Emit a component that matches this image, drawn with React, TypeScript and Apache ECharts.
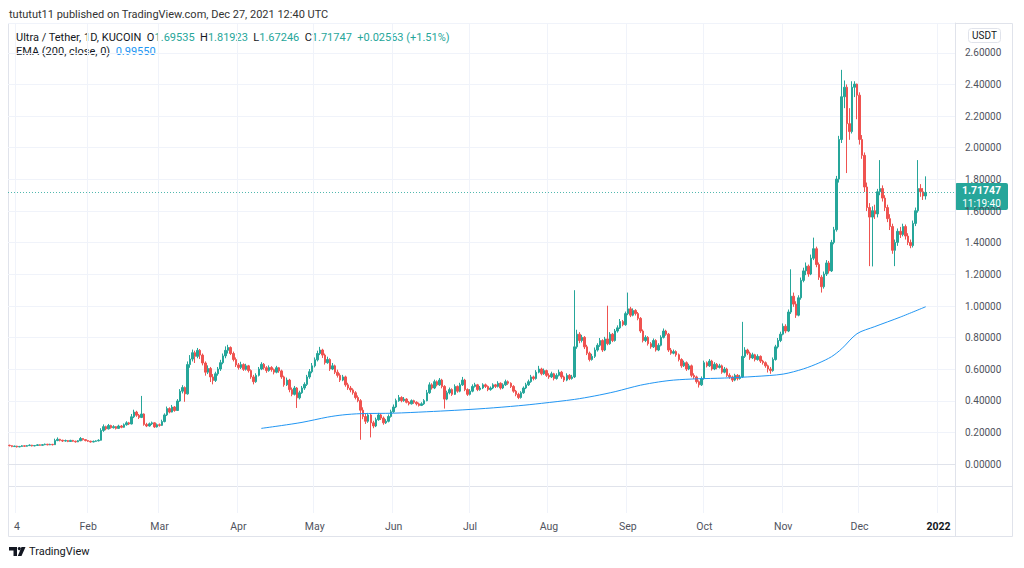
import React, { useEffect, useRef } from "react";
import * as echarts from "echarts";

// Daily candles, each entry [close, high, low]; open = previous close.
const firstOpen = 0.12;
const jan = [
  [0.118, 0.124, 0.113], [0.112, 0.12, 0.108], [0.115, 0.118, 0.11], [0.11, 0.117, 0.106], [0.113, 0.116, 0.108],
  [0.117, 0.121, 0.111], [0.114, 0.119, 0.111], [0.118, 0.122, 0.112], [0.121, 0.126, 0.116], [0.116, 0.123, 0.113],
  [0.119, 0.122, 0.114], [0.123, 0.127, 0.117], [0.12, 0.126, 0.117], [0.124, 0.128, 0.118], [0.127, 0.131, 0.121],
  [0.123, 0.129, 0.12], [0.126, 0.13, 0.121], [0.124, 0.129, 0.119], [0.15, 0.162, 0.122], [0.158, 0.17, 0.146],
  [0.152, 0.161, 0.145], [0.147, 0.155, 0.141], [0.15, 0.156, 0.143], [0.144, 0.153, 0.14], [0.151, 0.155, 0.141],
  [0.146, 0.154, 0.142], [0.142, 0.149, 0.137], [0.149, 0.153, 0.14], [0.163, 0.172, 0.146], [0.156, 0.166, 0.15],
  [0.15, 0.159, 0.145],
];
const feb = [
  [0.146, 0.153, 0.141], [0.141, 0.149, 0.137], [0.145, 0.15, 0.139], [0.148, 0.152, 0.142], [0.152, 0.158, 0.145],
  [0.214, 0.228, 0.15], [0.238, 0.252, 0.205], [0.224, 0.244, 0.215], [0.245, 0.255, 0.22], [0.231, 0.25, 0.225],
  [0.238, 0.247, 0.226], [0.227, 0.242, 0.22], [0.242, 0.25, 0.224], [0.234, 0.248, 0.228], [0.25, 0.258, 0.231],
  [0.262, 0.272, 0.244], [0.255, 0.268, 0.248], [0.3, 0.318, 0.252], [0.33, 0.345, 0.292], [0.31, 0.338, 0.3],
  [0.296, 0.318, 0.286], [0.318, 0.432, 0.292], [0.252, 0.322, 0.244], [0.242, 0.262, 0.235], [0.256, 0.264, 0.238],
  [0.262, 0.27, 0.248], [0.236, 0.265, 0.23], [0.25, 0.258, 0.232],
];
const mar = [
  [0.246, 0.258, 0.238], [0.27, 0.282, 0.242], [0.312, 0.322, 0.265], [0.352, 0.365, 0.305], [0.33, 0.36, 0.322],
  [0.362, 0.375, 0.328], [0.34, 0.368, 0.332], [0.4, 0.412, 0.338], [0.462, 0.475, 0.395], [0.485, 0.5, 0.448],
  [0.445, 0.492, 0.395], [0.63, 0.65, 0.44], [0.665, 0.69, 0.61], [0.705, 0.725, 0.65], [0.682, 0.718, 0.64],
  [0.72, 0.735, 0.67], [0.69, 0.728, 0.665], [0.64, 0.7, 0.625], [0.582, 0.65, 0.56], [0.605, 0.625, 0.57],
  [0.552, 0.615, 0.52], [0.53, 0.57, 0.505], [0.572, 0.585, 0.52], [0.602, 0.615, 0.56], [0.642, 0.66, 0.59],
  [0.685, 0.7, 0.632], [0.72, 0.745, 0.67], [0.738, 0.755, 0.7], [0.7, 0.745, 0.69], [0.662, 0.712, 0.65],
  [0.628, 0.675, 0.615],
];
const apr = [
  [0.612, 0.64, 0.598], [0.63, 0.648, 0.602], [0.6, 0.638, 0.59], [0.622, 0.635, 0.592], [0.592, 0.628, 0.58],
  [0.552, 0.6, 0.54], [0.522, 0.565, 0.505], [0.562, 0.575, 0.515], [0.602, 0.615, 0.555], [0.632, 0.645, 0.595],
  [0.61, 0.64, 0.598], [0.592, 0.62, 0.578], [0.612, 0.625, 0.585], [0.598, 0.62, 0.585], [0.582, 0.605, 0.568],
  [0.61, 0.622, 0.575], [0.59, 0.615, 0.578], [0.552, 0.598, 0.54], [0.502, 0.56, 0.49], [0.532, 0.548, 0.495],
  [0.472, 0.54, 0.455], [0.442, 0.485, 0.43], [0.482, 0.495, 0.435], [0.42, 0.488, 0.356], [0.452, 0.465, 0.41],
  [0.482, 0.495, 0.445], [0.505, 0.518, 0.47], [0.552, 0.565, 0.495], [0.585, 0.602, 0.54], [0.622, 0.64, 0.575],
];
const may = [
  [0.66, 0.675, 0.612], [0.7, 0.718, 0.65], [0.722, 0.742, 0.69], [0.69, 0.73, 0.672], [0.642, 0.7, 0.63],
  [0.662, 0.68, 0.635], [0.602, 0.67, 0.59], [0.622, 0.64, 0.595], [0.582, 0.63, 0.57], [0.562, 0.598, 0.548],
  [0.532, 0.575, 0.52], [0.552, 0.565, 0.525], [0.502, 0.56, 0.49], [0.482, 0.515, 0.47], [0.47, 0.495, 0.455],
  [0.452, 0.48, 0.44], [0.422, 0.462, 0.41], [0.402, 0.435, 0.392], [0.342, 0.412, 0.155], [0.302, 0.36, 0.285],
  [0.272, 0.32, 0.255], [0.312, 0.325, 0.262], [0.262, 0.32, 0.17], [0.242, 0.275, 0.228], [0.282, 0.295, 0.235],
  [0.312, 0.325, 0.275], [0.292, 0.32, 0.28], [0.262, 0.302, 0.25], [0.272, 0.285, 0.255], [0.302, 0.315, 0.265],
  [0.332, 0.345, 0.295],
];
const jun = [
  [0.362, 0.378, 0.325], [0.402, 0.415, 0.355], [0.422, 0.438, 0.395], [0.402, 0.43, 0.392], [0.412, 0.425, 0.395],
  [0.392, 0.418, 0.385], [0.382, 0.4, 0.372], [0.402, 0.41, 0.378], [0.392, 0.408, 0.382], [0.382, 0.398, 0.372],
  [0.372, 0.39, 0.365], [0.382, 0.392, 0.368], [0.402, 0.412, 0.375], [0.452, 0.47, 0.398], [0.502, 0.518, 0.445],
  [0.482, 0.512, 0.472], [0.522, 0.535, 0.475], [0.502, 0.53, 0.492], [0.532, 0.545, 0.495], [0.492, 0.54, 0.48],
  [0.412, 0.5, 0.352], [0.452, 0.465, 0.405], [0.472, 0.485, 0.442], [0.442, 0.48, 0.432], [0.492, 0.505, 0.438],
  [0.462, 0.498, 0.452], [0.502, 0.515, 0.455], [0.532, 0.552, 0.495], [0.472, 0.54, 0.462], [0.442, 0.48, 0.432],
];
const jul = [
  [0.462, 0.475, 0.435], [0.492, 0.505, 0.455], [0.502, 0.515, 0.485], [0.472, 0.508, 0.462], [0.482, 0.495, 0.465],
  [0.502, 0.512, 0.475], [0.492, 0.51, 0.482], [0.472, 0.498, 0.462], [0.482, 0.492, 0.465], [0.502, 0.512, 0.475],
  [0.492, 0.508, 0.482], [0.512, 0.525, 0.485], [0.482, 0.518, 0.472], [0.502, 0.512, 0.475], [0.522, 0.535, 0.495],
  [0.512, 0.53, 0.502], [0.492, 0.518, 0.482], [0.462, 0.5, 0.452], [0.442, 0.47, 0.43], [0.422, 0.452, 0.412],
  [0.452, 0.462, 0.415], [0.482, 0.492, 0.445], [0.502, 0.515, 0.475], [0.522, 0.535, 0.495], [0.552, 0.565, 0.515],
  [0.542, 0.56, 0.53], [0.582, 0.595, 0.535], [0.602, 0.622, 0.575], [0.572, 0.61, 0.562], [0.592, 0.605, 0.565],
  [0.562, 0.598, 0.552],
];
const aug = [
  [0.552, 0.575, 0.54], [0.572, 0.585, 0.545], [0.542, 0.578, 0.53], [0.562, 0.575, 0.535], [0.582, 0.598, 0.555],
  [0.552, 0.59, 0.54], [0.532, 0.56, 0.52], [0.562, 0.575, 0.525], [0.542, 0.57, 0.532], [0.552, 0.565, 0.535],
  [0.742, 1.1, 0.545], [0.822, 0.85, 0.73], [0.782, 0.835, 0.765], [0.802, 0.818, 0.77], [0.742, 0.81, 0.728],
  [0.702, 0.755, 0.69], [0.662, 0.712, 0.65], [0.682, 0.698, 0.655], [0.722, 0.738, 0.672], [0.752, 0.765, 0.712],
  [0.782, 0.798, 0.742], [0.722, 0.79, 0.71], [0.792, 0.805, 0.715], [0.762, 1.002, 0.752], [0.822, 0.835, 0.755],
  [0.782, 0.83, 0.772], [0.842, 0.855, 0.775], [0.862, 0.878, 0.832], [0.902, 0.918, 0.855], [0.882, 0.912, 0.872],
  [0.952, 0.965, 0.875],
];
const sep = [
  [0.982, 1.085, 0.942], [0.942, 0.995, 0.93], [0.972, 0.985, 0.935], [0.952, 0.98, 0.94], [0.922, 0.962, 0.91],
  [0.842, 0.93, 0.83], [0.782, 0.852, 0.77], [0.802, 0.815, 0.772], [0.762, 0.81, 0.75], [0.742, 0.772, 0.73],
  [0.782, 0.795, 0.735], [0.722, 0.79, 0.712], [0.752, 0.765, 0.715], [0.802, 0.815, 0.745], [0.842, 0.858, 0.795],
  [0.822, 0.85, 0.812], [0.722, 0.83, 0.71], [0.702, 0.735, 0.692], [0.712, 0.725, 0.695], [0.692, 0.72, 0.68],
  [0.662, 0.7, 0.65], [0.622, 0.67, 0.61], [0.642, 0.655, 0.615], [0.602, 0.65, 0.59], [0.622, 0.635, 0.595],
  [0.562, 0.63, 0.55], [0.552, 0.575, 0.54], [0.522, 0.56, 0.51], [0.502, 0.53, 0.485], [0.542, 0.555, 0.495],
];
const oct = [
  [0.642, 0.655, 0.535], [0.622, 0.65, 0.612], [0.652, 0.665, 0.615], [0.602, 0.66, 0.592], [0.632, 0.645, 0.595],
  [0.612, 0.64, 0.6], [0.622, 0.635, 0.605], [0.582, 0.63, 0.572], [0.602, 0.615, 0.575], [0.562, 0.61, 0.552],
  [0.552, 0.575, 0.54], [0.532, 0.56, 0.52], [0.562, 0.572, 0.525], [0.542, 0.57, 0.53], [0.552, 0.565, 0.535],
  [0.682, 0.9, 0.545], [0.722, 0.74, 0.672], [0.702, 0.73, 0.69], [0.672, 0.712, 0.66], [0.692, 0.705, 0.665],
  [0.662, 0.698, 0.65], [0.682, 0.695, 0.655], [0.652, 0.688, 0.64], [0.642, 0.66, 0.63], [0.622, 0.65, 0.61],
  [0.602, 0.63, 0.58], [0.592, 0.615, 0.572], [0.662, 0.675, 0.585], [0.742, 0.755, 0.655], [0.782, 0.798, 0.732],
  [0.822, 0.838, 0.772],
];
const nov = [
  [0.872, 0.89, 0.815], [0.842, 0.885, 0.828], [0.962, 0.978, 0.835], [1.062, 1.232, 0.95], [1.012, 1.085, 0.995],
  [0.942, 1.03, 0.925], [1.052, 1.068, 0.935], [1.162, 1.18, 1.04], [1.222, 1.242, 1.15], [1.252, 1.275, 1.195],
  [1.202, 1.262, 1.185], [1.302, 1.325, 1.195], [1.362, 1.432, 1.29], [1.262, 1.375, 1.245], [1.182, 1.275, 1.165],
  [1.122, 1.195, 1.085], [1.202, 1.218, 1.11], [1.272, 1.29, 1.19], [1.222, 1.285, 1.205], [1.402, 1.418, 1.215],
  [1.482, 1.5, 1.39], [1.802, 1.822, 1.47], [2.052, 2.075, 1.78], [2.322, 2.492, 2.03], [2.382, 2.425, 2.25],
  [2.152, 2.4, 1.84], [2.102, 2.25, 2.05], [2.382, 2.42, 2.09], [2.402, 2.42, 2.32], [2.332, 2.405, 2.18],
];
const dec = [
  [2.052, 2.35, 2.02], [1.952, 2.08, 1.93], [1.752, 1.97, 1.72], [1.622, 1.78, 1.6], [1.562, 1.65, 1.252],
  [1.602, 1.63, 1.25], [1.582, 1.64, 1.55], [1.722, 1.74, 1.56], [1.742, 1.922, 1.7], [1.682, 1.762, 1.66],
  [1.622, 1.7, 1.6], [1.552, 1.64, 1.53], [1.502, 1.58, 1.48], [1.352, 1.52, 1.33], [1.402, 1.42, 1.252],
  [1.472, 1.49, 1.38], [1.452, 1.5, 1.43], [1.502, 1.52, 1.44], [1.442, 1.515, 1.42], [1.402, 1.46, 1.385],
  [1.382, 1.42, 1.365], [1.522, 1.54, 1.37], [1.602, 1.622, 1.505], [1.742, 1.922, 1.59], [1.722, 1.77, 1.69],
  [1.69535, 1.745, 1.67], [1.71747, 1.81923, 1.67246],
];

// EMA(200): [day index from Jan 1, value]
const emaPoints = [
  [99, 0.227], [107, 0.245], [115, 0.265], [125, 0.298], [131, 0.312], [138, 0.32], [151, 0.323],
  [164, 0.332], [175, 0.341], [187, 0.353], [200, 0.37], [209, 0.385], [222, 0.41], [230, 0.432],
  [238, 0.459], [243, 0.48], [248, 0.5], [255, 0.52], [261, 0.532], [270, 0.54], [281, 0.545],
  [293, 0.555], [304, 0.57], [312, 0.603], [318, 0.64], [323, 0.68], [327, 0.73], [333, 0.825],
  [340, 0.87], [350, 0.93], [360, 0.9955],
];

const tickIndex = [3, 31, 59, 90, 120, 151, 181, 212, 243, 273, 304, 334, 365];
const tickLabel = ["4", "Feb", "Mar", "Apr", "May", "Jun", "Jul", "Aug", "Sep", "Oct", "Nov", "Dec", "2022"];
const totalSlots = 372;
const lastPrice = 1.71747;
const emaLast = "0.99550";
const ohlcText = { o: "1.69535", h: "1.81923", l: "1.67246", c: "1.71747", chg: "+0.02563 (+1.51%)" };

const UP = "#26a69a";
const DOWN = "#ef5350";
const FONT = "Roboto, 'Noto Sans', sans-serif";

export default function App() {
  const ref = useRef<HTMLDivElement>(null);
  useEffect(() => {
    document.body.style.margin = "0";
    const chart = echarts.init(ref.current!, undefined, { renderer: "svg" });
    const days = [jan, feb, mar, apr, may, jun, jul, aug, sep, oct, nov, dec].flat();
    const candles = days.map((d, i) => [i === 0 ? firstOpen : days[i - 1][0], d[0], d[2], d[1]]);
    const start = Date.UTC(2021, 0, 1);
    const cats = Array.from({ length: totalSlots }, (_, i) =>
      new Date(start + i * 86400000).toISOString().slice(0, 10)
    );
    const gridColors = ["rgba(0,0,0,0)", "rgba(0,0,0,0)"].concat(Array(30).fill("#f0f3fa"));
    const border = "#e0e3eb";

    chart.setOption({
      animation: false,
      backgroundColor: "#ffffff",
      textStyle: { fontFamily: FONT },
      grid: { left: 8, right: 69, top: 23, bottom: 55 },
      xAxis: {
        type: "category",
        data: cats,
        boundaryGap: true,
        axisLine: { show: true, lineStyle: { color: border } },
        axisTick: { show: false },
        axisLabel: {
          interval: (idx: number) => tickIndex.includes(idx),
          formatter: (_v: string, idx: number) => {
            const k = tickIndex.indexOf(idx);
            if (k < 0) return "";
            return k === tickLabel.length - 1 ? `{b|${tickLabel[k]}}` : tickLabel[k];
          },
          color: "#50535e",
          fontSize: 10.5,
          margin: 8,
          fontFamily: FONT,
          rich: { b: { fontWeight: "bold", color: "#131722", fontSize: 10.5, fontFamily: FONT } },
        },
        splitLine: {
          show: true,
          interval: (idx: number) => tickIndex.includes(idx),
          lineStyle: { color: "#f0f3fa" },
        },
      },
      yAxis: {
        type: "value",
        position: "right",
        min: -0.3076,
        max: 2.788,
        splitNumber: 15,
        axisLine: { show: true, lineStyle: { color: border } },
        axisTick: { show: false },
        axisLabel: {
          color: "#50535e",
          fontSize: 10,
          margin: 10,
          fontFamily: FONT,
          showMinLabel: false,
          showMaxLabel: false,
          formatter: (v: number) => (v < -0.001 ? "" : v.toFixed(5)),
        },
        splitLine: { show: true, lineStyle: { color: gridColors } },
      },
      series: [
        {
          type: "candlestick",
          data: candles,
          barWidth: 2,
          itemStyle: { color: UP, color0: DOWN, borderColor: UP, borderColor0: DOWN, borderWidth: 1 },
          markLine: {
            silent: true,
            symbol: ["none", "none"],
            label: { show: false },
            lineStyle: { color: UP, type: [1, 2], width: 1, opacity: 0.8 },
            data: [{ yAxis: lastPrice }],
          },
        },
        {
          type: "line",
          data: emaPoints,
          showSymbol: false,
          smooth: 0.3,
          lineStyle: { color: "#2196f3", width: 1 },
        },
      ],
      graphic: [
        { type: "rect", shape: { x: 8.5, y: 23.5, width: 1004, height: 513 }, style: { fill: "none", stroke: border, lineWidth: 1 }, silent: true },
        { type: "line", shape: { x1: 8, y1: 486.5, x2: 1013, y2: 486.5 }, style: { stroke: border, lineWidth: 1 }, silent: true },
        { type: "line", shape: { x1: 955.5, y1: 23, x2: 955.5, y2: 537 }, style: { stroke: border, lineWidth: 1 }, silent: true },
        {
          type: "text", x: 9, y: 14,
          style: { text: "tututut11 published on TradingView.com, Dec 27, 2021 12:40 UTC", fill: "#333333", font: `11px ${FONT}`, verticalAlign: "middle" },
        },
        {
          type: "text", x: 16, y: 37,
          style: {
            text: `Ultra / Tether, 1D, KUCOIN  O{g|${ohlcText.o}}  H{g|${ohlcText.h}}  L{g|${ohlcText.l}}  C{g|${ohlcText.c}}  {g|${ohlcText.chg}}`,
            fill: "#131722", font: `11px ${FONT}`, verticalAlign: "middle",
            rich: { g: { fill: UP, font: `11px ${FONT}` } },
          },
        },
        {
          type: "text", x: 16, y: 51,
          style: {
            text: `EMA (200, close, 0)  {b|${emaLast}}`,
            fill: "#131722", font: `11px ${FONT}`, verticalAlign: "middle",
            rich: { b: { fill: "#2196f3", font: `11px ${FONT}` } },
          },
        },
        { type: "rect", shape: { x: 968.5, y: 28.5, width: 32, height: 14, r: 3 }, style: { fill: "#fff", stroke: border, lineWidth: 1 } },
        { type: "text", x: 984.5, y: 35.5, style: { text: "USDT", fill: "#131722", font: `10px ${FONT}`, align: "center", verticalAlign: "middle" } },
        { type: "rect", shape: { x: 955, y: 183, width: 53, height: 27, r: 2 }, style: { fill: UP } },
        { type: "text", x: 981.5, y: 190.5, style: { text: "1.71747", fill: "#fff", font: `bold 10.5px ${FONT}`, align: "center", verticalAlign: "middle" } },
        { type: "text", x: 981.5, y: 203, style: { text: "11:19:40", fill: "#fff", font: `10px ${FONT}`, align: "center", verticalAlign: "middle" } },
        { type: "polygon", shape: { points: [[9, 547], [17, 547], [17, 556], [13.5, 556], [13.5, 550.5], [9, 550.5]] }, style: { fill: "#131722" } },
        { type: "circle", shape: { cx: 19.3, cy: 548.6, r: 1.6 }, style: { fill: "#131722" } },
        { type: "polygon", shape: { points: [[21.5, 547], [25.5, 547], [21.5, 556], [17.8, 556]] }, style: { fill: "#131722" } },
        { type: "text", x: 29, y: 551.5, style: { text: "TradingView", fill: "#131722", font: `11px ${FONT}`, verticalAlign: "middle" } },
      ],
    });
    return () => chart.dispose();
  }, []);
  return <div ref={ref} style={{ position: "fixed", left: 0, top: 0, width: 1024, height: 568, background: "#fff" }} />;
}
